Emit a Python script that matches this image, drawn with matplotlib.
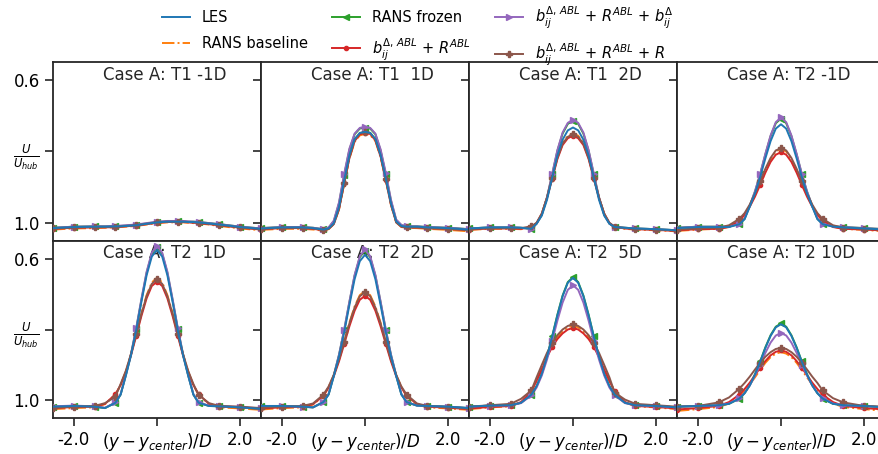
import matplotlib
matplotlib.use("Agg")
import matplotlib.pyplot as plt

# lateral coordinate (y - y_center)/D
X = [-2.5, -2.0, -1.5, -1.25, -1.0, -0.875, -0.75, -0.625, -0.5, -0.375, -0.25, -0.125, 0.0,
     0.125, 0.25, 0.375, 0.5, 0.625, 0.75, 0.875, 1.0, 1.25, 1.5, 2.0, 2.5]
MARK_IDX = [0, 1, 2, 4, 8, 12, 16, 20, 22, 23, 24]

titles = ['Case A: T1 -1D', 'Case A: T1  1D', 'Case A: T1  2D', 'Case A: T2 -1D',
          'Case A: T2  1D', 'Case A: T2  2D', 'Case A: T2  5D', 'Case A: T2 10D']

les = [
    [1.014,1.011,1.010,1.010,1.009, 1.009,1.008,1.007,1.006,1.004,1.002,1.000,0.998,0.997,0.996,0.996,0.996,0.996,0.997,0.997, 0.998,1.001,1.004,1.011,1.016],
    [1.015,1.012,1.012,1.014,1.018, 1.015,1.000,0.955,0.880,0.810,0.765,0.748,0.745,0.748,0.765,0.810,0.875,0.945,0.995,1.008, 1.010,1.010,1.012,1.014,1.018],
    [1.015,1.012,1.012,1.013,1.016, 1.002,0.979,0.935,0.873,0.811,0.767,0.741,0.733,0.741,0.767,0.811,0.873,0.935,0.979,1.002, 1.011,1.013,1.015,1.017,1.020],
    [1.014,1.011,1.011,1.011,1.003, 0.989,0.954,0.917,0.871,0.819,0.771,0.736,0.724,0.736,0.771,0.819,0.871,0.917,0.954,0.989, 1.003,1.010,1.012,1.015,1.018],
    [1.018,1.016,1.018,1.022,1.007, 0.984,0.931,0.873,0.802,0.722,0.647,0.594,0.575,0.594,0.647,0.722,0.802,0.873,0.931,0.984, 1.007,1.016,1.017,1.020,1.024],
    [1.016,1.016,1.018,1.020,1.005, 0.984,0.932,0.876,0.808,0.731,0.658,0.607,0.589,0.607,0.658,0.731,0.808,0.876,0.932,0.984, 1.005,1.015,1.016,1.018,1.022],
    [1.018,1.015,1.014,1.007,0.984, 0.960,0.925,0.877,0.820,0.760,0.706,0.668,0.654,0.668,0.706,0.760,0.820,0.877,0.925,0.960, 0.984,1.007,1.014,1.016,1.020],
    [1.018,1.016,1.014,1.010,0.995, 0.980,0.958,0.927,0.891,0.852,0.818,0.794,0.785,0.794,0.818,0.852,0.891,0.927,0.958,0.980, 0.995,1.010,1.014,1.016,1.020],
]

rans_baseline = [
    [1.018,1.015,1.014,1.013,1.012, 1.011,1.010,1.009,1.008,1.006,1.004,1.002,1.000,0.999,0.998,0.998,0.998,0.998,0.999,1.000, 1.001,1.004,1.008,1.015,1.020],
    [1.019,1.016,1.016,1.018,1.021, 1.017,1.003,0.962,0.890,0.820,0.773,0.755,0.751,0.754,0.771,0.816,0.881,0.950,0.998,1.011, 1.013,1.014,1.016,1.019,1.023],
    [1.019,1.016,1.016,1.017,1.012, 1.001,0.974,0.929,0.872,0.816,0.776,0.756,0.749,0.756,0.776,0.816,0.872,0.929,0.974,1.001, 1.012,1.016,1.018,1.020,1.023],
    [1.022,1.018,1.016,1.010,0.992, 0.975,0.952,0.922,0.887,0.852,0.822,0.800,0.793,0.800,0.822,0.852,0.887,0.922,0.952,0.975, 0.992,1.010,1.016,1.019,1.023],
    [1.025,1.022,1.020,1.011,0.984, 0.957,0.919,0.870,0.813,0.754,0.703,0.667,0.654,0.667,0.703,0.754,0.813,0.870,0.919,0.957, 0.984,1.011,1.020,1.023,1.027],
    [1.026,1.022,1.020,1.012,0.988, 0.963,0.929,0.885,0.834,0.781,0.735,0.703,0.691,0.703,0.735,0.781,0.834,0.885,0.929,0.963, 0.988,1.012,1.020,1.023,1.027],
    [1.025,1.020,1.017,1.006,0.974, 0.944,0.911,0.874,0.844,0.821,0.805,0.794,0.789,0.794,0.805,0.821,0.844,0.874,0.911,0.944, 0.974,1.006,1.017,1.020,1.025],
    [1.030,1.025,1.019,1.009,0.989, 0.973,0.955,0.935,0.914,0.894,0.878,0.868,0.864,0.868,0.878,0.894,0.914,0.935,0.955,0.973, 0.989,1.009,1.019,1.025,1.030],
]

rans_frozen = [
    [1.013,1.010,1.009,1.009,1.008, 1.008,1.007,1.006,1.005,1.003,1.001,0.999,0.997,0.996,0.995,0.995,0.995,0.995,0.996,0.996, 0.997,1.000,1.003,1.010,1.015],
    [1.014,1.011,1.011,1.013,1.017, 1.013,0.995,0.945,0.866,0.795,0.752,0.736,0.733,0.736,0.752,0.797,0.864,0.938,0.992,1.006, 1.009,1.009,1.011,1.013,1.017],
    [1.015,1.012,1.012,1.013,1.016, 1.001,0.977,0.929,0.864,0.798,0.750,0.723,0.714,0.723,0.750,0.798,0.864,0.929,0.977,1.001, 1.011,1.013,1.015,1.017,1.020],
    [1.013,1.010,1.010,1.010,1.002, 0.988,0.951,0.912,0.863,0.808,0.757,0.721,0.708,0.721,0.757,0.808,0.863,0.912,0.951,0.988, 1.002,1.009,1.011,1.014,1.017],
    [1.018,1.016,1.018,1.022,1.007, 0.984,0.929,0.870,0.798,0.717,0.640,0.586,0.567,0.586,0.640,0.717,0.798,0.870,0.929,0.984, 1.007,1.016,1.017,1.020,1.024],
    [1.016,1.016,1.018,1.020,1.005, 0.983,0.930,0.872,0.802,0.723,0.648,0.596,0.577,0.596,0.648,0.723,0.802,0.872,0.930,0.983, 1.005,1.015,1.016,1.018,1.022],
    [1.018,1.015,1.014,1.007,0.984, 0.960,0.925,0.877,0.819,0.758,0.704,0.666,0.652,0.666,0.704,0.758,0.819,0.877,0.925,0.960, 0.984,1.007,1.014,1.016,1.020],
    [1.018,1.016,1.014,1.010,0.995, 0.980,0.957,0.926,0.890,0.850,0.816,0.792,0.783,0.792,0.816,0.850,0.890,0.926,0.957,0.980, 0.995,1.010,1.014,1.016,1.020],
]

b_r_abl = [
    [1.016,1.013,1.012,1.012,1.011, 1.010,1.009,1.008,1.007,1.005,1.003,1.001,0.999,0.998,0.997,0.997,0.997,0.997,0.998,0.999, 1.000,1.003,1.006,1.013,1.018],
    [1.017,1.014,1.014,1.016,1.020, 1.016,1.002,0.960,0.888,0.818,0.771,0.752,0.748,0.751,0.769,0.814,0.879,0.948,0.997,1.010, 1.012,1.012,1.014,1.016,1.020],
    [1.018,1.015,1.015,1.016,1.011, 1.000,0.974,0.930,0.876,0.821,0.782,0.763,0.756,0.763,0.782,0.821,0.876,0.930,0.974,1.000, 1.011,1.015,1.017,1.019,1.022],
    [1.020,1.017,1.016,1.011,0.993, 0.977,0.954,0.926,0.893,0.859,0.829,0.809,0.802,0.809,0.829,0.859,0.893,0.926,0.954,0.977, 0.993,1.011,1.016,1.018,1.021],
    [1.022,1.019,1.018,1.010,0.983, 0.957,0.921,0.873,0.818,0.762,0.712,0.677,0.665,0.677,0.712,0.762,0.818,0.873,0.921,0.957, 0.983,1.010,1.018,1.020,1.024],
    [1.023,1.020,1.018,1.011,0.987, 0.964,0.932,0.890,0.841,0.791,0.747,0.716,0.705,0.716,0.747,0.791,0.841,0.890,0.932,0.964, 0.987,1.011,1.018,1.021,1.025],
    [1.023,1.019,1.016,1.005,0.975, 0.945,0.913,0.878,0.849,0.827,0.811,0.800,0.796,0.800,0.811,0.827,0.849,0.878,0.913,0.945, 0.975,1.005,1.016,1.019,1.023],
    [1.026,1.022,1.016,1.005,0.984, 0.968,0.950,0.929,0.908,0.889,0.873,0.863,0.859,0.863,0.873,0.889,0.908,0.929,0.950,0.968, 0.984,1.005,1.016,1.022,1.026],
]

b_r_abl_b = [
    [1.013,1.010,1.009,1.009,1.008, 1.007,1.006,1.005,1.004,1.002,1.000,0.998,0.996,0.995,0.994,0.994,0.994,0.994,0.995,0.996, 0.997,1.000,1.003,1.010,1.015],
    [1.014,1.011,1.011,1.013,1.017, 1.012,0.993,0.942,0.862,0.792,0.750,0.734,0.731,0.734,0.750,0.794,0.860,0.935,0.990,1.005, 1.009,1.009,1.011,1.013,1.017],
    [1.015,1.012,1.012,1.013,1.016, 1.001,0.977,0.928,0.862,0.796,0.747,0.720,0.711,0.720,0.747,0.796,0.862,0.928,0.977,1.001, 1.011,1.013,1.015,1.017,1.020],
    [1.013,1.010,1.010,1.010,1.002, 0.987,0.951,0.911,0.862,0.806,0.755,0.718,0.705,0.718,0.755,0.806,0.862,0.911,0.951,0.987, 1.002,1.009,1.011,1.014,1.017],
    [1.017,1.015,1.017,1.021,1.006, 0.983,0.929,0.869,0.796,0.714,0.637,0.583,0.563,0.583,0.637,0.714,0.796,0.869,0.929,0.983, 1.006,1.015,1.016,1.019,1.023],
    [1.016,1.016,1.018,1.020,1.005, 0.982,0.929,0.871,0.800,0.721,0.646,0.593,0.574,0.593,0.646,0.721,0.800,0.871,0.929,0.982, 1.005,1.015,1.016,1.018,1.022],
    [1.018,1.015,1.014,1.008,0.986, 0.964,0.930,0.885,0.832,0.775,0.724,0.688,0.675,0.688,0.724,0.775,0.832,0.885,0.930,0.964, 0.986,1.008,1.014,1.016,1.020],
    [1.018,1.016,1.014,1.009,0.994, 0.979,0.958,0.930,0.899,0.866,0.837,0.817,0.810,0.817,0.837,0.866,0.899,0.930,0.958,0.979, 0.994,1.009,1.014,1.016,1.020],
]

b_r_abl_r = [
    [1.015,1.012,1.011,1.011,1.010, 1.009,1.008,1.007,1.006,1.004,1.002,1.000,0.998,0.997,0.996,0.996,0.996,0.996,0.997,0.998, 0.999,1.002,1.005,1.012,1.017],
    [1.016,1.013,1.013,1.015,1.019, 1.016,1.003,0.961,0.889,0.817,0.769,0.749,0.745,0.748,0.766,0.812,0.878,0.948,0.998,1.010, 1.012,1.012,1.014,1.016,1.020],
    [1.017,1.014,1.014,1.014,1.009, 0.999,0.973,0.928,0.873,0.818,0.778,0.759,0.752,0.759,0.778,0.818,0.873,0.928,0.973,0.999, 1.010,1.014,1.016,1.018,1.021],
    [1.018,1.015,1.013,1.006,0.988, 0.972,0.948,0.918,0.883,0.848,0.818,0.797,0.791,0.797,0.818,0.848,0.883,0.918,0.948,0.972, 0.988,1.006,1.013,1.016,1.019],
    [1.021,1.018,1.016,1.008,0.990, 0.954,0.917,0.869,0.814,0.756,0.706,0.671,0.658,0.671,0.706,0.756,0.814,0.869,0.917,0.954, 0.985,1.008,1.016,1.018,1.022],
    [1.021,1.018,1.016,1.009,0.984, 0.961,0.928,0.885,0.835,0.783,0.738,0.706,0.695,0.706,0.738,0.783,0.835,0.885,0.928,0.961, 0.984,1.009,1.016,1.019,1.023],
    [1.018,1.014,1.010,0.996,0.972, 0.935,0.900,0.866,0.838,0.816,0.800,0.790,0.785,0.790,0.800,0.816,0.838,0.866,0.900,0.935, 0.978,0.998,1.010,1.014,1.018],
    [1.018,1.016,1.006,0.992,0.967, 0.951,0.933,0.913,0.894,0.877,0.864,0.855,0.852,0.855,0.864,0.877,0.894,0.913,0.933,0.951, 0.972,0.994,1.006,1.016,1.018],
]

series = [
    (les, 'LES', dict(color='#1f77b4', ls='-', zorder=10)),
    (rans_baseline, 'RANS baseline', dict(color='#ff7f0e', ls='-.', zorder=3)),
    (rans_frozen, 'RANS frozen', dict(color='#2ca02c', ls='-', marker='<', ms=4.5, zorder=4)),
    (b_r_abl, r'$b_{ij}^{\Delta,\,ABL}$ + $R^{ABL}$', dict(color='#d62728', ls='-', marker='.', ms=6, zorder=4)),
    (b_r_abl_b, r'$b_{ij}^{\Delta,\,ABL}$ + $R^{ABL}$ + $b_{ij}^{\Delta}$', dict(color='#9467bd', ls='-', marker='>', ms=4.5, zorder=5)),
    (b_r_abl_r, r'$b_{ij}^{\Delta,\,ABL}$ + $R^{ABL}$ + $R$', dict(color='#8c564b', ls='-', marker='P', ms=4.5, zorder=5)),
]

plt.rcParams['font.family'] = ['DejaVu Sans']
plt.rcParams['mathtext.fontset'] = 'dejavusans'

W, H = 879, 454
fig = plt.figure(figsize=(W / 100, H / 100), dpi=100)

left_px, panel_w = 53, 208
tops = [62, 241]
bots = [241, 418]

axes = []
for i in range(8):
    r, c = divmod(i, 4)
    x0 = (left_px + c * panel_w) / W
    y0 = 1 - bots[r] / H
    h = (bots[r] - tops[r]) / H
    ax = fig.add_axes([x0, y0, panel_w / W, h])
    axes.append(ax)
    for data, label, kw in series:
        extra = {}
        if 'marker' in kw:
            extra['markevery'] = MARK_IDX
        ax.plot(X, data[i], lw=1.4, label=label, **kw, **extra)
    ax.set_xlim(-2.5, 2.5)
    ax.set_ylim(1.05, 0.55)
    ax.set_yticks([0.6, 0.8, 1.0])
    ax.set_xticks([-2.0, 0.0, 2.0])
    ax.tick_params(direction='out', length=6, width=1.2, labelsize=12, color='#262626')
    for s in ax.spines.values():
        s.set_linewidth(1.3)
        s.set_color('#262626')
    if c == 0:
        ax.set_yticklabels(['0.6', r'$\frac{U}{U_{hub}}$', '1.0'])
    else:
        ax.set_yticklabels([])
    if r == 1:
        ax.set_xticklabels(['-2.0', r'$(y-y_{center})/D$', '2.0'])
    else:
        ax.set_xticklabels([])
        ax.tick_params(axis='x', bottom=False)
    ax.text(0.24, 0.93, titles[i], transform=ax.transAxes, ha='left', va='center',
            fontsize=12, color='#262626')

handles, labels = axes[0].get_legend_handles_labels()
fig.legend(handles, labels, ncol=3, loc='upper left', bbox_to_anchor=(0.178, 1.003),
           borderaxespad=0.0, frameon=False, fontsize=10.5, handlelength=1.9,
           handletextpad=0.8, columnspacing=1.7, labelspacing=0.75)

fig.savefig('out.png', dpi=100)
